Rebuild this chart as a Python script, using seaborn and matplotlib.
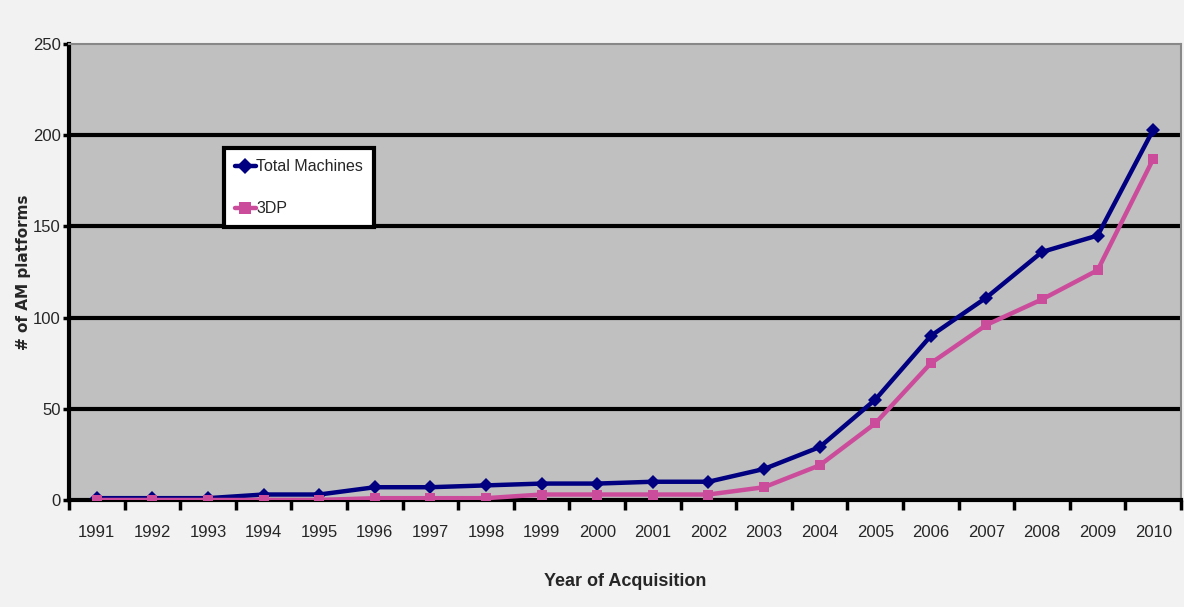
import matplotlib
matplotlib.use("Agg")
import matplotlib.pyplot as plt
import seaborn as sns
import pandas as pd
from matplotlib.ticker import FixedLocator, NullFormatter
from matplotlib.lines import Line2D

years = ["1991", "1992", "1993", "1994", "1995", "1996", "1997", "1998", "1999", "2000",
         "2001", "2002", "2003", "2004", "2005", "2006", "2007", "2008", "2009", "2010"]
total_machines = [1, 1, 1, 3, 3, 7, 7, 8, 9, 9, 10, 10, 17, 29, 55, 90, 111, 136, 145, 203]
three_dp = [0, 0, 0, 0, 0, 1, 1, 1, 3, 3, 3, 3, 7, 19, 42, 75, 96, 110, 126, 187]
y_ticks = [0, 50, 100, 150, 200, 250]

sns.set_theme(style="white")
narrow = ["Liberation Sans Narrow", "Liberation Sans", "DejaVu Sans"]
plt.rcParams["font.family"] = narrow

pos = list(range(len(years)))
df = pd.DataFrame({
    "pos": pos * 2,
    "value": total_machines + three_dp,
    "series": ["Total Machines"] * len(years) + ["3DP"] * len(years),
})

fig = plt.figure(figsize=(11.84, 6.07), dpi=100, facecolor="#f2f2f2")
ax = fig.add_axes([0.0583, 0.1763, 0.9392, 0.7512])
ax.set_facecolor("#c0c0c0")

palette = {"Total Machines": "#000080", "3DP": "#cc4c9c"}
sns.lineplot(data=df, x="pos", y="value", hue="series", style="series",
             markers={"Total Machines": "D", "3DP": "s"}, dashes=False,
             palette=palette, linewidth=3.2, markersize=7, markeredgewidth=0,
             ax=ax, legend=False, zorder=3)

ax.set_xlim(-0.5, len(years) - 0.5)
ax.set_ylim(0, 250)
ax.set_yticks(y_ticks)
ax.set_yticklabels([str(t) for t in y_ticks], fontsize=12)
for t in y_ticks[1:-1]:
    ax.axhline(t, color="black", linewidth=3, zorder=1)

ax.xaxis.set_major_locator(FixedLocator([p - 0.5 for p in pos] + [len(years) - 0.5]))
ax.xaxis.set_major_formatter(NullFormatter())
ax.xaxis.set_minor_locator(FixedLocator(pos))
ax.set_xticklabels(years, minor=True, fontsize=12)
ax.tick_params(axis="x", which="major", length=7, width=2.5, color="black", direction="out", bottom=True)
ax.tick_params(axis="x", which="minor", length=0, pad=18)
ax.tick_params(axis="y", length=4, width=2.5, color="black", direction="out", left=True, pad=2)

for s in ["left", "bottom"]:
    ax.spines[s].set_color("black")
    ax.spines[s].set_linewidth(3)
for s in ["top", "right"]:
    ax.spines[s].set_color("#888888")
    ax.spines[s].set_linewidth(1.5)

ax.set_xlabel("Year of Acquisition", fontsize=13, fontweight="bold")
ax.xaxis.set_label_coords(0.5, -0.16)
ax.set_ylabel("# of AM platforms", fontsize=11, fontweight="bold",
              family=["DejaVu Sans"])
ax.yaxis.set_label_coords(-0.034, 0.5)

handles = [Line2D([], [], color="#000080", marker="D", markersize=8, linewidth=3.2, markeredgewidth=0),
           Line2D([], [], color="#cc4c9c", marker="s", markersize=8, linewidth=3.2, markeredgewidth=0)]
leg = ax.legend(handles, ["Total Machines", "3DP"], loc="upper left",
                bbox_to_anchor=(0.139, 0.772), frameon=True, fancybox=False,
                fontsize=11.5, handlelength=1.3, handletextpad=0.05, borderpad=0.7,
                labelspacing=1.7, borderaxespad=0)
leg.get_frame().set_edgecolor("black")
leg.get_frame().set_linewidth(3)
leg.get_frame().set_facecolor("white")
leg.get_frame().set_alpha(1)

fig.savefig("out.png", dpi=100, facecolor=fig.get_facecolor())
